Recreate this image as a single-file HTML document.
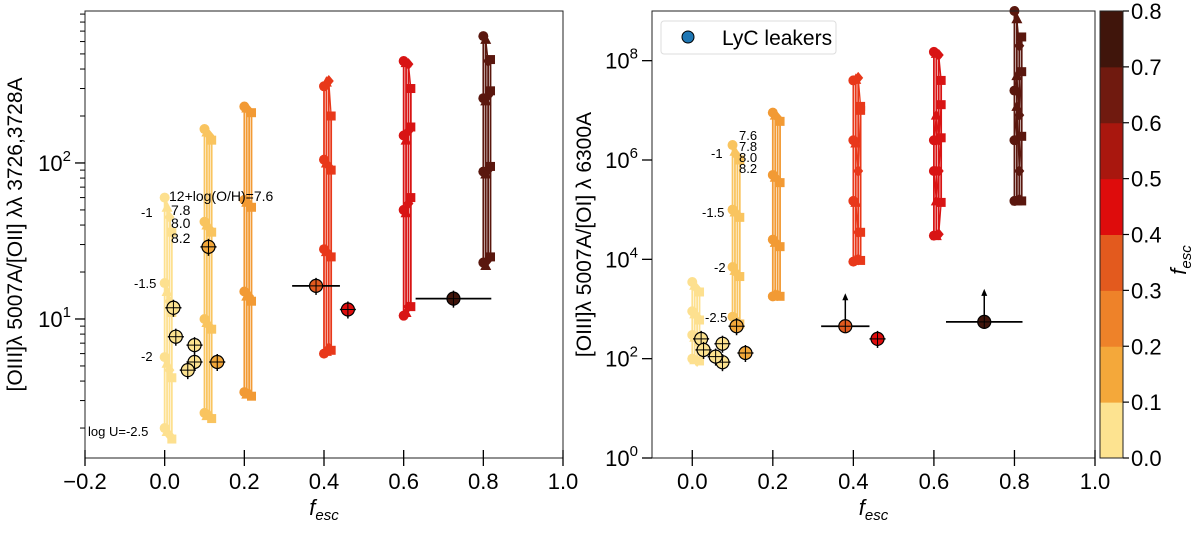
<!DOCTYPE html>
<html><head><meta charset="utf-8"><style>
html,body{margin:0;padding:0;background:#fff;}
svg{display:block;font-family:"Liberation Sans","DejaVu Sans",sans-serif;}
</style></head><body>
<svg id="chart" width="1200" height="535" viewBox="0 0 1200 535" xmlns="http://www.w3.org/2000/svg">
<g id="left"></g>
<g id="right"></g>
<g id="cbar"></g>
</svg>
<script>
// ---- data ----
const fescCols = [0, 0.1, 0.2, 0.4, 0.6, 0.8];
const zOffsets = [0, 0.006, 0.012, 0.018];
const metalLabels = ["7.6", "7.8", "8.0", "8.2"];
const logULabels = ["-1", "-1.5", "-2", "-2.5"];
// left panel: O32 per column, per metallicity, logU -1,-1.5,-2,-2.5
const o32Models = [
  [[60,17,5.7,2.0],[52,15,5.2,1.9],[45,13,4.7,1.8],[36,11,4.2,1.7]],
  [[165,42,10,2.5],[158,40,9.5,2.4],[150,38,9,2.4],[140,36,8.6,2.3]],
  [[230,58,15,3.4],[225,56,14,3.3],[215,54,14,3.3],[210,52,13,3.2]],
  [[310,105,28,6],[330,100,27,6.2],[335,95,26,6.5],[200,90,25,6.3]],
  [[450,150,50,10.5],[440,140,48,11],[430,160,55,12],[300,170,60,12]],
  [[650,260,88,23],[620,250,85,22],[450,270,90,24],[460,290,95,25]]
];
const o3o1Models = [
  [[3500,900,300,100],[3000,800,270,95],[2500,700,250,90],[2200,600,220,90]],
  [[2e6,1e5,7e3,700],[1.5e6,9e4,6e3,600],[1.2e6,8e4,5e3,550],[1e6,7e4,4.5e3,500]],
  [[9e6,5e5,2.5e4,1800],[8e6,4.5e5,2.2e4,2000],[7e6,4e5,2e4,1900],[6e6,3.5e5,1.8e4,1800]],
  [[4e7,2.5e6,1.5e5,9e3],[4.2e7,2.2e6,1.4e5,1e4],[4.5e7,6e5,3.5e4,1e4],[1.2e7,1e7,3.5e4,9.5e3]],
  [[1.5e8,2.5e6,6e5,3e4],[1.4e8,8e6,1.5e5,3e4],[1.3e8,2.5e6,6e5,3.2e4],[4e7,1.3e7,2.8e6,1.4e5]],
  [[1e9,2.5e7,2.5e6,1.5e5],[7e8,5e7,1.2e7,1.5e5],[2e8,8e6,6e5,1.6e5],[3e8,6e7,3e6,1.5e5]]
];
const colColors = ["#fde08f","#f9c45f","#f29a34","#e8381a","#d81414","#5a170e"];
// observed LyC leakers
const obsFesc = [0.022,0.028,0.075,0.075,0.058,0.11,0.132,0.38,0.46,0.725];
const obsO32 = [11.8,7.7,6.8,5.3,4.7,29,5.3,16.3,11.5,13.5];
const obsO3o1 = [250,150,200,85,110,450,130,450,250,550];
const obsXlo = [0,0,0,0,0,0,0,0.32,0,0.63];
const obsXhi = [0,0,0,0,0,0,0,0.44,0,0.82];
const obsLimit = [0,0,0,0,0,0,0,1,0,1];
const cbarTicks = ["0.0","0.1","0.2","0.3","0.4","0.5","0.6","0.7","0.8"];
const cbarColors = ["#fde390","#f4a83a","#ee8229","#e35a1e","#de0c0c","#a9170e","#701a0f","#40150b"];

const NS="http://www.w3.org/2000/svg";
function mk(parent,tag,attrs,txt){const e=document.createElementNS(NS,tag);for(const k in attrs)e.setAttribute(k,attrs[k]);if(txt!==undefined)e.textContent=txt;parent.appendChild(e);return e;}
function cmap(f){const i=Math.min(7,Math.max(0,Math.floor(f*10)));return cbarColors[i];}

function marker(g,shape,x,y,col){
  let e;
  if(shape===0){e=mk(g,'circle',{cx:x,cy:y,r:5,fill:col});}
  else if(shape===1){e=mk(g,'polygon',{points:`${x},${y-6} ${x-5.5},${y+4.5} ${x+5.5},${y+4.5}`,fill:col});}
  else if(shape===2){e=mk(g,'polygon',{points:`${x},${y-6} ${x+5},${y} ${x},${y+6} ${x-5},${y}`,fill:col});}
  else {e=mk(g,'rect',{x:x-4.5,y:y-4.5,width:9,height:9,fill:col});}
  
  
}

function panel(gid,P,models,obsY,yTickVals,yTickExp,minor,ylabel,ylabelX){
  const g=document.getElementById(gid);
  const X=v=>P.x0+(v-P.xmin)/(P.xmax-P.xmin)*(P.x1-P.x0);
  const Y=v=>P.y1-(Math.log10(v)-P.lmin)/(P.lmax-P.lmin)*(P.y1-P.y0);
  const mg=mk(g,'g',{});
  
  
  models.forEach((col,ci)=>{
    col.forEach((vals,zi)=>{
      const x=fescCols[ci]+zOffsets[zi];
      const pts=vals.map(v=>X(x)+','+Y(v)).join(' ');
      const pl=mk(mg,'polyline',{points:pts,fill:'none',stroke:colColors[ci],'stroke-width':1.8});
      
      
    });
    for(let u=0;u<4;u++){
      const pts=col.map((vals,zi)=>X(fescCols[ci]+zOffsets[zi])+','+Y(vals[u])).join(' ');
      const pl=mk(mg,'polyline',{points:pts,fill:'none',stroke:colColors[ci],'stroke-width':1.3});
      
      
    }
    col.forEach((vals,zi)=>{vals.forEach(v=>marker(mg,zi,X(fescCols[ci]+zOffsets[zi]),Y(v),colColors[ci]));});
  });
  const og=mk(g,'g',{});
  
  
  obsFesc.forEach((f,i)=>{
    const cx=X(f),cy=Y(obsY[i]);
    if(obsXhi[i]>0){mk(og,'line',{x1:X(obsXlo[i]),x2:X(obsXhi[i]),y1:cy,y2:cy,stroke:'#000','stroke-width':1.8});}
    else mk(og,'line',{x1:cx-8,x2:cx+8,y1:cy,y2:cy,stroke:'#000','stroke-width':1.5});
    if(obsLimit[i]&&gid==='right'){mk(og,'line',{x1:cx,x2:cx,y1:cy,y2:cy-28,stroke:'#000','stroke-width':1.5});mk(og,'polygon',{points:`${cx},${cy-33} ${cx-3},${cy-26} ${cx+3},${cy-26}`,fill:'#000'});}
    else mk(og,'line',{x1:cx,x2:cx,y1:cy-8,y2:cy+9,stroke:'#000','stroke-width':1.5});
    const c=mk(og,'circle',{cx:cx,cy:cy,r:6.5,fill:cmap(f),stroke:'#000','stroke-width':1.2});
    
    
    mk(og,'line',{x1:cx-6,x2:cx+6,y1:cy,y2:cy,stroke:'#000','stroke-width':1});
    mk(og,'line',{x1:cx,x2:cx,y1:cy-6,y2:cy+6,stroke:'#000','stroke-width':1});
  });
  const fr=mk(g,'rect',{x:P.x0,y:P.y0,width:P.x1-P.x0,height:P.y1-P.y0,fill:'none',stroke:'#222','stroke-width':1});
  
  
  const xa=mk(g,'g',{});
  
  
  P.xticks.forEach(t=>{
    const x=X(t);
    mk(xa,'line',{x1:x,x2:x,y1:P.y1-8,y2:P.y1+8,stroke:'#000','stroke-width':1.3});
    const lab=(t<0?'\u22120.2':t.toFixed(1));
    const tx=mk(xa,'text',{x:x,y:P.y1+31,'font-size':22,'text-anchor':'middle',fill:'#000'},lab);
    
    
  });
  const xt=mk(xa,'text',{x:(P.x0+P.x1)/2,y:515,'font-size':22,'text-anchor':'middle','font-style':'italic'});
  
  
  mk(xt,'tspan',{},'f');mk(xt,'tspan',{'font-size':15,dy:5},'esc');
  const ya=mk(g,'g',{});
  
  
  yTickVals.forEach((v,i)=>{
    const y=Y(v);
    mk(ya,'line',{x1:P.x0-10,x2:P.x0,y1:y,y2:y,stroke:'#000','stroke-width':1.3});
    const tx=mk(ya,'text',{x:P.x0-14,y:y+8,'font-size':22,'text-anchor':'end'});
    
    
    mk(tx,'tspan',{},'10');mk(tx,'tspan',{'font-size':15,dy:-10},yTickExp[i]);
  });
  minor.forEach(v=>{const y=Y(v);if(y>=P.y0-0.5&&y<=P.y1)mk(ya,'line',{x1:P.x0-5,x2:P.x0,y1:y,y2:y,stroke:'#000','stroke-width':1});});
  const yl=mk(g,'text',{x:ylabelX,y:(P.y0+P.y1)/2,'font-size':21,'text-anchor':'middle',transform:`rotate(-90 ${ylabelX} ${(P.y0+P.y1)/2})`},ylabel);
  
  
  return g;
}

const LP={x0:85,x1:563,y0:11,y1:458,xmin:-0.2,xmax:1.0,lmin:0.109,lmax:2.974,xticks:[-0.2,0,0.2,0.4,0.6,0.8,1.0]};
const minorL=[];[1,10,100].forEach(d=>{for(let k=2;k<10;k++)minorL.push(d*k);});
const gl=panel('left',LP,o32Models,obsO32,[10,100],['1','2'],minorL,'[OIII]\u03bb 5007A/[OII] \u03bb\u03bb 3726,3728A',22);
const RP={x0:652,x1:1095,y0:11,y1:458,xmin:-0.1,xmax:1.0,lmin:0,lmax:9.0,xticks:[0,0.2,0.4,0.6,0.8,1.0]};
const gr=panel('right',RP,o3o1Models,obsO3o1,[1,100,1e4,1e6,1e8],['0','2','4','6','8'],[],'[OIII]\u03bb 5007A/[OI] \u03bb 6300A',591);

function ann(g,x,y,t,s){const e=mk(g,'text',{x:x,y:y,'font-size':s||13},t);}
ann(gl,169,201,'12+log(O/H)=7.6',14);ann(gl,171,215,'7.8',14);ann(gl,171,228,'8.0',14);ann(gl,171,243,'8.2',14);
ann(gl,141,217,'-1');ann(gl,134,288,'-1.5');ann(gl,141,361,'-2');ann(gl,88,436,'log U=-2.5');
ann(gr,739,140,'7.6');ann(gr,739,151,'7.8');ann(gr,739,162,'8.0');ann(gr,739,173,'8.2');
ann(gr,711,158,'-1');ann(gr,702,217,'-1.5');ann(gr,714,272,'-2');ann(gr,705,322,'-2.5');

const lg=mk(gr,'g',{});


mk(lg,'rect',{x:661,y:21,width:175,height:33,rx:3,fill:'#fff',stroke:'#ddd'});
mk(lg,'circle',{cx:688,cy:37,r:6,fill:'#1f77b4',stroke:'#000','stroke-width':1});
const lt=mk(lg,'text',{x:722,y:45,'font-size':21},'LyC leakers');



const cb=document.getElementById('cbar');
const cx0=1100,cx1=1123,cy0=11,cy1=458;
const CY=v=>cy1-v/0.8*(cy1-cy0);
cbarColors.forEach((c,i)=>{
  const r=mk(cb,'rect',{x:cx0,y:CY((i+1)*0.1),width:cx1-cx0,height:CY(i*0.1)-CY((i+1)*0.1)+0.5,fill:c});
  
  
});
mk(cb,'rect',{x:cx0,y:cy0,width:cx1-cx0,height:cy1-cy0,fill:'none',stroke:'#222','stroke-width':1});
cbarTicks.forEach(t=>{
  const y=CY(parseFloat(t));
  mk(cb,'line',{x1:cx1,x2:cx1+6,y1:y,y2:y,stroke:'#000','stroke-width':1.2});
  const tx=mk(cb,'text',{x:cx1+8,y:y+8,'font-size':22},t);
  
  
});
const ct=mk(cb,'text',{x:1186,y:260,'font-size':22,'font-style':'italic','text-anchor':'middle',transform:'rotate(-90 1186 260)'});


mk(ct,'tspan',{},'f');mk(ct,'tspan',{'font-size':15,dy:5},'esc');
</script>
</body></html>
